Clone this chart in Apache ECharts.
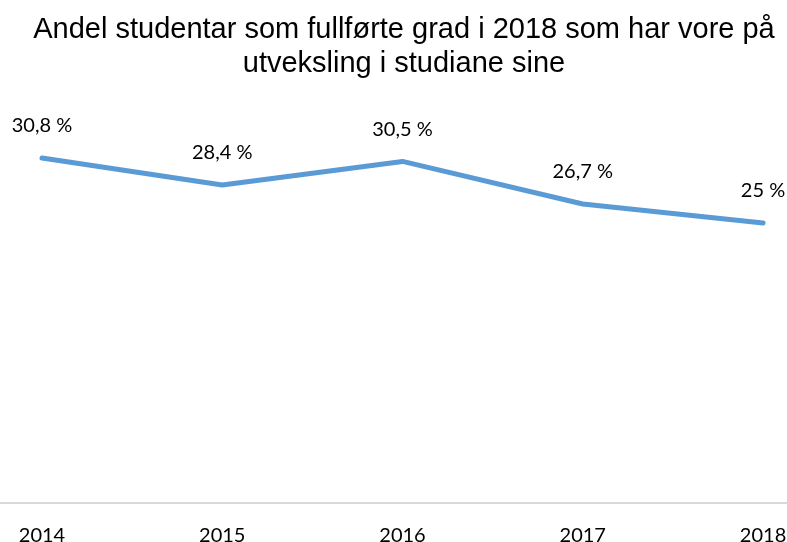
<!DOCTYPE html>
<html>
<head>
<meta charset="utf-8">
<script src="https://cdn.jsdelivr.net/npm/echarts@6/dist/echarts.min.js"></script>
<style>
  html, body { margin: 0; padding: 0; background: #fff; }
  #chart { width: 787px; height: 542px; }
</style>
</head>
<body>
<div id="chart"></div>
<script>
// data
const years = [2014, 2015, 2016, 2017, 2018];
const shares = [30.8, 28.4, 30.5, 26.7, 25];

const chart = echarts.init(document.getElementById('chart'));

chart.setOption({
    animation: false,
    title: {
        text: 'Andel studentar som fullførte grad i 2018 som har vore på\nutveksling i studiane sine',
        left: 399,
        top: 8,
        textAlign: 'center',
        textStyle: {
            fontFamily: 'Liberation Sans',
            fontSize: 29,
            fontWeight: 'normal',
            color: '#000',
            lineHeight: 34,
            align: 'center'
        }
    },
    // labels are allowed to run to the bottom edge, like the cropped original
    grid: {left: 0, right: 0, top: 111, bottom: 39, outerBoundsMode: 'none'},
    xAxis: {
        type: 'value',
        min: 2013.767,
        max: 2018.133,
        splitLine: {show: false},
        axisLine: {show: true, lineStyle: {color: '#d9d9d9', width: 2}},
        axisTick: {show: false},
        axisLabel: {
            customValues: years,
            formatter: v => String(v),
            fontFamily: 'Lato',
            fontSize: 20,
            color: '#000',
            margin: 23
        }
    },
    yAxis: {
        type: 'value',
        min: 0,
        max: 35,
        show: false,
        splitLine: {show: false}
    },
    series: [{
        type: 'line',
        data: years.map((y, i) => [y, shares[i]]),
        symbol: 'circle',
        symbolSize: 0,
        showSymbol: true,
        clip: false,
        lineStyle: {color: '#5b9bd5', width: 5, cap: 'round', join: 'round'},
        itemStyle: {color: '#5b9bd5'},
        label: {
            show: true,
            position: 'top',
            distance: 22,
            fontFamily: 'Lato',
            fontSize: 20,
            color: '#000',
            formatter: p => String(p.value[1]).replace('.', ',') + ' %'
        }
    }]
});
</script>
</body>
</html>
